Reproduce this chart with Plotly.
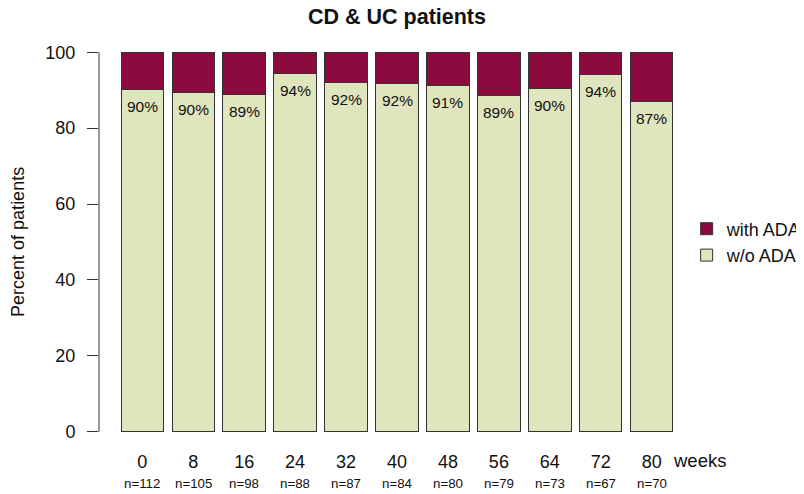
import plotly.graph_objects as go

weeks = ["0", "8", "16", "24", "32", "40", "48", "56", "64", "72", "80"]
n_patients = [112, 105, 98, 88, 87, 84, 80, 79, 73, 67, 70]
pct_without_ada = [90.2, 89.5, 88.8, 94.3, 92.0, 91.7, 91.2, 88.6, 90.4, 94.0, 87.1]
pct_labels = ["90%", "90%", "89%", "94%", "92%", "92%", "91%", "89%", "90%", "94%", "87%"]
pct_with_ada = [round(100 - v, 1) for v in pct_without_ada]
y_ticks = [0, 20, 40, 60, 80, 100]

FONT = "Liberation Sans, Arial, Helvetica, sans-serif"
MAROON = "#8C0A3D"
BEIGE = "#E1E5BD"
EDGE = "#333333"

fig = go.Figure()
fig.add_trace(go.Bar(
    x=weeks, y=pct_without_ada, name="w/o ADA",
    marker=dict(color=BEIGE, line=dict(color=EDGE, width=1)),
    hoverinfo="skip",
))
fig.add_trace(go.Bar(
    x=weeks, y=pct_with_ada, name="with ADA",
    marker=dict(color=MAROON, line=dict(color=EDGE, width=1)),
    hoverinfo="skip",
))

annotations = []
for i, (v, lab) in enumerate(zip(pct_without_ada, pct_labels)):
    annotations.append(dict(
        x=i, y=v, xref="x", yref="y", text=lab, showarrow=False,
        yanchor="middle", yshift=-17, font=dict(size=15.5, color="#111111", family=FONT),
    ))
for i, n in enumerate(n_patients):
    annotations.append(dict(
        x=i, y=-0.088, xref="x", yref="paper", text=f"n={n}", showarrow=False,
        yanchor="middle", font=dict(size=13.3, color="#111111", family=FONT),
    ))
annotations.append(dict(
    x=1.0077, y=-0.033, xref="paper", yref="paper", text="weeks", showarrow=False,
    xanchor="center", yanchor="middle", font=dict(size=18.5, color="#111111", family=FONT),
))
annotations.append(dict(
    x=-0.136, y=0.5, xref="paper", yref="paper", text="Percent of patients",
    showarrow=False, textangle=-90, xanchor="center", yanchor="middle",
    font=dict(size=18, color="#111111", family=FONT),
))

# the page body has an 8px margin; the figure is sized to end at the window edge
fig.update_layout(
    width=796, height=486,
    margin=dict(l=91, r=108.6, t=29, b=46.8, autoexpand=False),
    paper_bgcolor="white", plot_bgcolor="white",
    barmode="stack", bargap=1/6,
    font=dict(family=FONT, size=18, color="#111111"),
    title=dict(text="<b>CD &amp; UC patients</b>", x=0.5, xref="paper", xanchor="center",
               y=0.999, yref="container", yanchor="top",
               font=dict(size=21.5, family=FONT, color="#111111")),
    legend=dict(x=0.986, y=0.5, xanchor="left", yanchor="middle", traceorder="reversed",
                bgcolor="rgba(0,0,0,0)", font=dict(size=18, family=FONT, color="#111111")),
    annotations=annotations,
    shapes=[dict(type="line", xref="paper", yref="y", x0=0, x1=0, y0=0, y1=100,
                 line=dict(color=EDGE, width=1))],
)
fig.update_xaxes(type="category", range=[-0.85, 10.85], showgrid=False, zeroline=False,
                 showline=False, ticks="", ticklabelstandoff=2,
                 tickfont=dict(size=18, family=FONT, color="#111111"), fixedrange=True)
fig.update_yaxes(range=[-4, 104], tickvals=y_ticks, showgrid=False, zeroline=False,
                 showline=False, ticks="outside", ticklen=11, tickcolor=EDGE,
                 ticklabelstandoff=8, tickfont=dict(size=18, family=FONT, color="#111111"),
                 fixedrange=True)

fig.write_html("out.html")
